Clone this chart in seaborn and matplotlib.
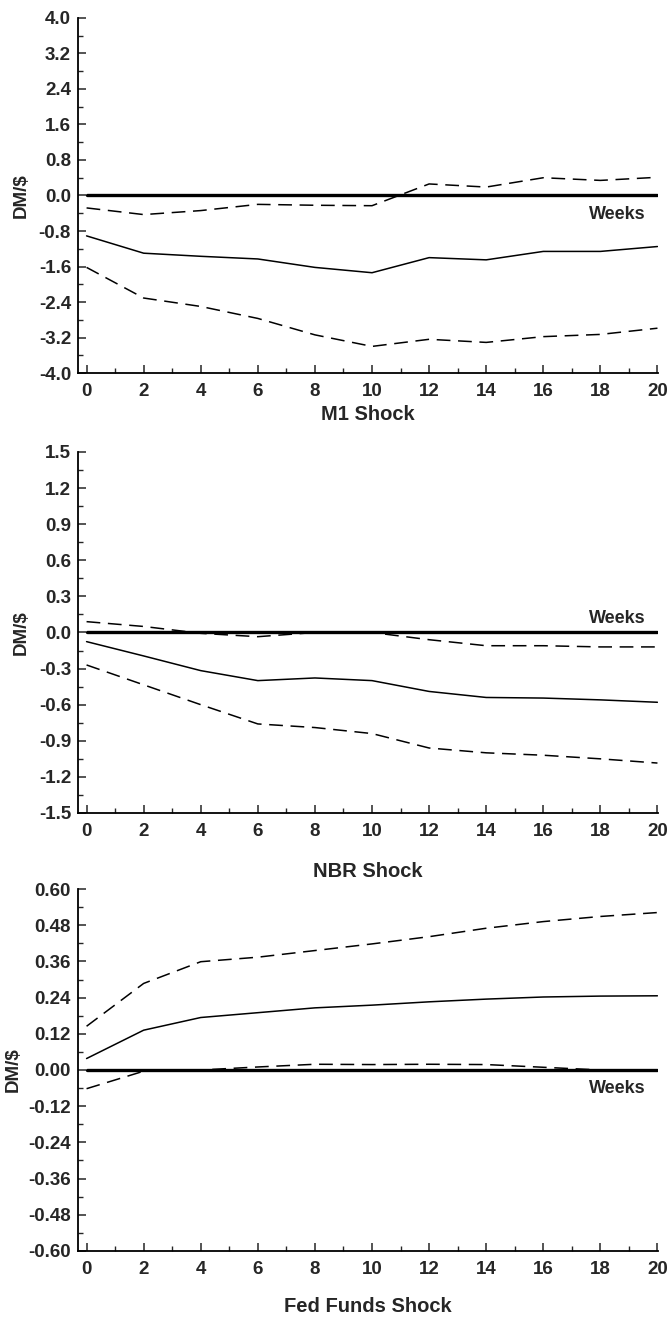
import pandas as pd
import seaborn as sns
import matplotlib.pyplot as plt
from matplotlib.ticker import MultipleLocator, FuncFormatter

# weeks after the shock
weeks = [0, 2, 4, 6, 8, 10, 12, 14, 16, 18, 20]

# M1 shock: response and confidence bands
m1_resp = [-0.91, -1.30, -1.37, -1.43, -1.62, -1.74, -1.40, -1.45, -1.26, -1.26, -1.15]
m1_upper = [-0.28, -0.43, -0.34, -0.20, -0.22, -0.23, 0.26, 0.19, 0.40, 0.34, 0.41]
m1_lower = [-1.62, -2.31, -2.50, -2.77, -3.14, -3.40, -3.24, -3.31, -3.18, -3.13, -2.99]

# NBR shock
nbr_resp = [-0.076, -0.195, -0.317, -0.40, -0.378, -0.40, -0.49, -0.54, -0.545, -0.56, -0.58]
nbr_upper = [0.09, 0.05, -0.007, -0.035, 0.0, 0.0, -0.06, -0.11, -0.11, -0.12, -0.12]
nbr_lower = [-0.27, -0.435, -0.60, -0.76, -0.79, -0.84, -0.96, -1.0, -1.02, -1.05, -1.085]

# Fed funds shock
ff_resp = [0.038, 0.132, 0.174, 0.19, 0.206, 0.215, 0.226, 0.235, 0.242, 0.245, 0.246]
ff_upper = [0.145, 0.287, 0.359, 0.374, 0.396, 0.418, 0.442, 0.470, 0.492, 0.509, 0.522]
ff_lower = [-0.062, -0.004, 0.0, 0.01, 0.019, 0.018, 0.019, 0.018, 0.009, 0.0, -0.004]

zero_line = [0.0] * len(weeks)

titles = ['M1 Shock', 'NBR Shock', 'Fed Funds Shock']
ylims = [4.0, 1.5, 0.60]
ysteps = [0.8, 0.3, 0.12]
ydecs = [1, 1, 2]
weeks_y = [-0.43, 0.117, -0.062]
xlabel_pads = [4, 16, 14]
ylabel_x = [-0.083, -0.083, -0.097]

panels = [
    (m1_resp, m1_upper, m1_lower),
    (nbr_resp, nbr_upper, nbr_lower),
    (ff_resp, ff_upper, ff_lower),
]


def make_fmt(dec):
    # avoid "-0.0" from float noise
    return FuncFormatter(lambda v, p: f'{round(v, 4) + 0.0:.{dec}f}')


sns.set_style('ticks')
plt.rcParams['font.family'] = ['Liberation Sans', 'DejaVu Sans']
plt.rcParams['font.weight'] = 'bold'
plt.rcParams['axes.unicode_minus'] = False

fig = plt.figure(figsize=(6.69, 13.2), dpi=100)
# [left, bottom, width, height] for each panel
boxes = [
    [0.1166, 0.7174, 0.867, 0.2690],
    [0.1166, 0.3841, 0.867, 0.2735],
    [0.1166, 0.0523, 0.867, 0.2742],
]

for i, (resp, upper, lower) in enumerate(panels):
    ax = fig.add_axes(boxes[i])
    df = pd.DataFrame({'week': weeks, 'resp': resp, 'upper': upper,
                       'lower': lower, 'zero': zero_line})

    sns.lineplot(data=df, x='week', y='zero', color='black', lw=2.4, ax=ax)
    sns.lineplot(data=df, x='week', y='resp', color='black', lw=1.1, ax=ax)
    for col in ['upper', 'lower']:
        sns.lineplot(data=df, x='week', y=col, color='black', lw=1.1,
                     linestyle=(0, (9, 5)), ax=ax)

    lim = ylims[i]
    ax.set_ylim(-lim, lim)
    ax.set_xlim(-0.3, 20.02)
    ax.yaxis.set_major_locator(MultipleLocator(ysteps[i]))
    ax.yaxis.set_minor_locator(MultipleLocator(ysteps[i] / 2))
    ax.yaxis.set_major_formatter(make_fmt(ydecs[i]))
    ax.xaxis.set_major_locator(MultipleLocator(2))
    ax.xaxis.set_minor_locator(MultipleLocator(1))

    ax.tick_params(which='major', direction='in', length=6, width=1.1,
                   labelsize=13.5)
    ax.tick_params(which='minor', direction='in', length=3.5, width=1.0)
    ax.tick_params(axis='x', pad=7)
    ax.tick_params(axis='y', pad=5)
    for lab in ax.get_xticklabels() + ax.get_yticklabels():
        lab.set_fontweight('bold')

    sns.despine(ax=ax)
    for s in ['left', 'bottom']:
        ax.spines[s].set_linewidth(1.3)
        ax.spines[s].set_color('black')

    ax.set_xlabel(titles[i], fontsize=14.5, fontweight='bold',
                  labelpad=xlabel_pads[i])
    ax.set_ylabel('DM/$', fontsize=13.5, fontweight='bold')
    ax.yaxis.set_label_coords(ylabel_x[i], 0.5)

    ax.text(19.6, weeks_y[i], 'Weeks', ha='right', va='center',
            fontsize=13, fontweight='bold')

fig.savefig('out.png', dpi=100)
